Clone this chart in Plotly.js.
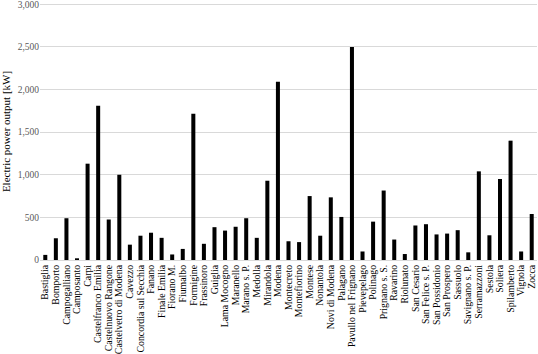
<!DOCTYPE html>
<html>
<head>
<meta charset="utf-8">
<script src="https://cdn.plot.ly/plotly-3.0.1.min.js"></script>
<style>html,body{margin:0;padding:0;background:#fff;}#chart{width:538px;height:354px;}</style>
</head>
<body>
<div id="chart"></div>
<script>
const municipalities = ["Bastiglia","Bomporto","Campogalliano","Camposanto","Carpi","Castelfranco Emilia","Castelnuovo Rangone","Castelvetro di Modena","Cavezzo","Concordia sul Secchia","Fanano","Finale Emilia","Fiorano M.","Fiumalbo","Formigine","Frassinoro","Guiglia","Lama Mocogno","Maranello","Marano s. P.","Medolla","Mirandola","Modena","Montecreto","Montefiorino","Montese","Nonantola","Novi di Modena","Palagano","Pavullo nel Frignano","Pievepelago","Polinago","Prignano s. S.","Ravarino","Riolunato","San Cesario","San Felice s. P.","San Possidonio","San Prospero","Sassuolo","Savignano s. P.","Serramazzoni","Sestola","Soliera","Spilamberto","Vignola","Zocca"];
const powerKW = [60,255,490,20,1130,1810,475,1000,180,285,320,260,65,130,1715,190,385,345,390,490,260,930,2090,220,210,750,285,735,505,2500,100,450,815,240,70,405,420,300,310,350,90,1040,290,950,1400,100,540];
const yTicks = [0,500,1000,1500,2000,2500,3000];

const serif = '"Liberation Serif", "Times New Roman", serif';

Plotly.newPlot('chart', [{
  type: 'bar',
  x: municipalities,
  y: powerKW,
  marker: {color: '#000000'},
  width: 0.38,
  hoverinfo: 'x+y'
}], {
  width: 538, height: 354,
  margin: {l: 40, r: 1, t: 3, b: 94},
  paper_bgcolor: '#ffffff', plot_bgcolor: '#ffffff',
  font: {family: serif, size: 9, color: '#404040'},
  showlegend: false,
  xaxis: {
    type: 'category',
    tickmode: 'array',
    tickvals: municipalities,
    ticktext: municipalities,
    tickangle: -90,
    tickfont: {family: serif, size: 9.8, color: '#000000'},
    showgrid: false,
    showline: true, linecolor: '#d9d9d9', linewidth: 1,
    ticks: '', ticklen: 0,
    automargin: false
  },
  yaxis: {
    range: [0, 3015],
    tickmode: 'array',
    tickvals: yTicks,
    ticktext: yTicks.map(v => v.toLocaleString('en-US')),
    tickfont: {family: serif, size: 9.5, color: '#595959'},
    ticklabeloverflow: 'allow',
    showgrid: true, gridcolor: '#d9d9d9', gridwidth: 1,
    zeroline: false,
    showline: false,
    ticks: '',
    title: {text: 'Electric power output [kW]', font: {family: serif, size: 11, color: '#000000'}, standoff: 4},
    automargin: false
  }
}, {displayModeBar: false, staticPlot: true});
</script>
</body>
</html>
